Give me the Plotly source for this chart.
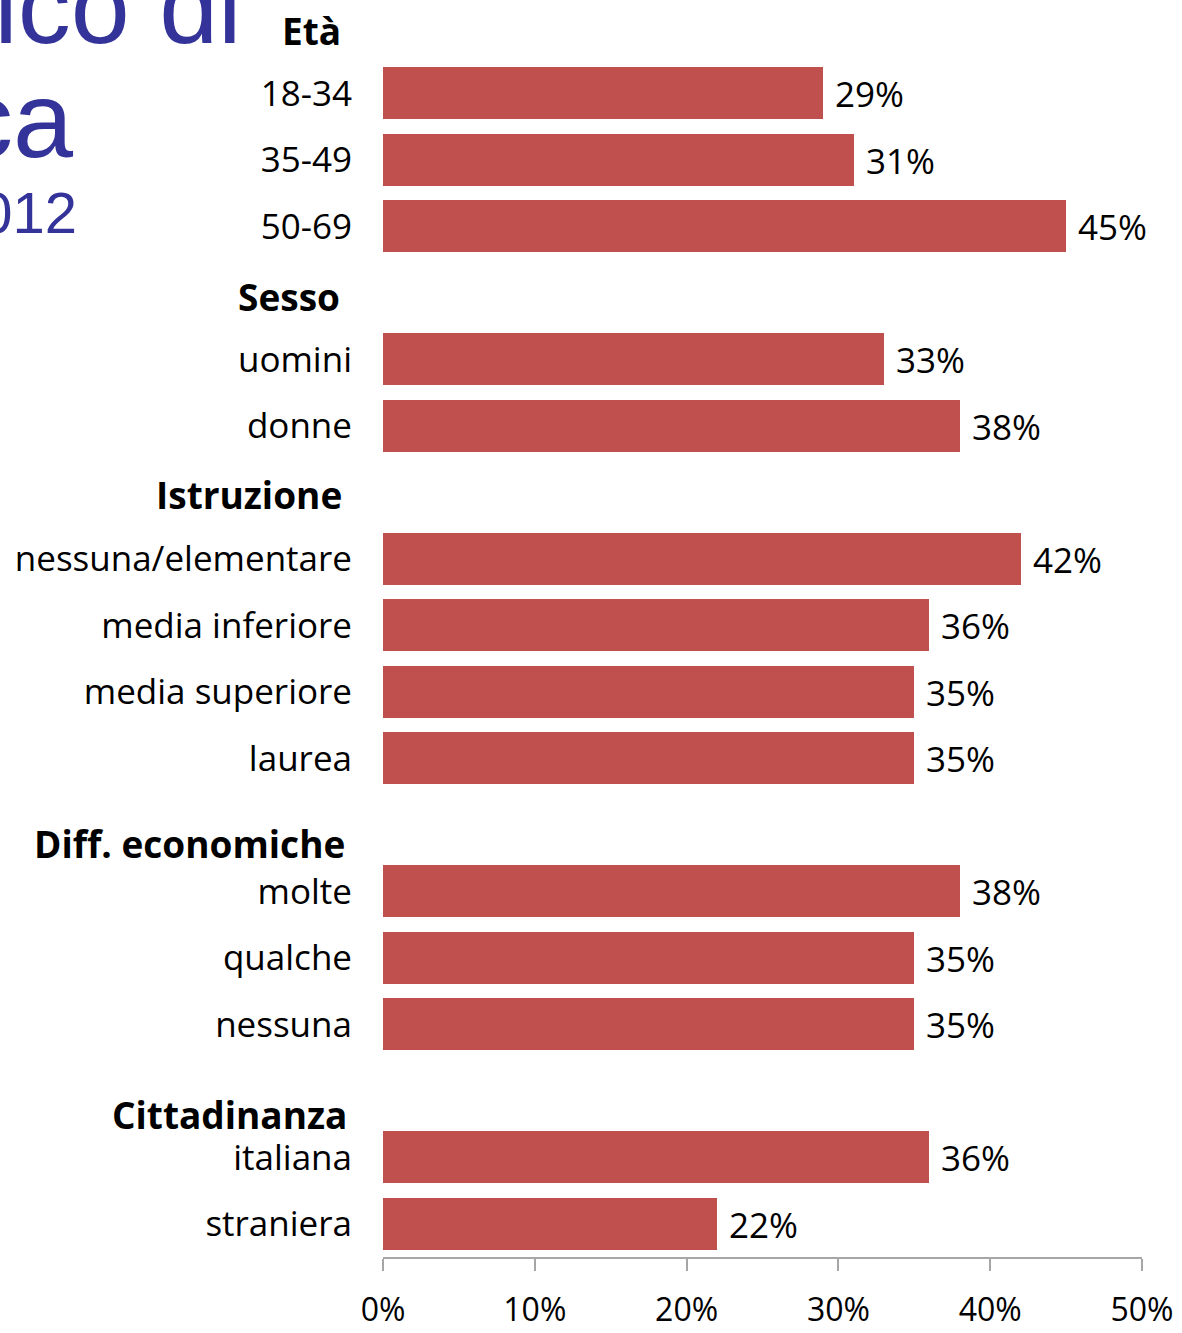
import plotly.graph_objects as go

# --- data -------------------------------------------------------------
group_names = ["Età", "Sesso", "Istruzione", "Diff. economiche", "Cittadinanza"]

eta_labels = ["18-34", "35-49", "50-69"]
eta_values = [29, 31, 45]

sesso_labels = ["uomini", "donne"]
sesso_values = [33, 38]

istruzione_labels = ["nessuna/elementare", "media inferiore", "media superiore", "laurea"]
istruzione_values = [42, 36, 35, 35]

economiche_labels = ["molte", "qualche", "nessuna"]
economiche_values = [38, 35, 35]

cittadinanza_labels = ["italiana", "straniera"]
cittadinanza_values = [36, 22]

x_tick_values = [0, 10, 20, 30, 40, 50]
x_tick_labels = ["0%", "10%", "20%", "30%", "40%", "50%"]

title_lines = ["Medico di", "fisica", "2012"]

# --- layout constants -------------------------------------------------
W, H = 1182, 1333
PLOT_L, PLOT_R = 383, 1142
PLOT_B = 1257
ROW_PX = 66.5
BAR_COLOR = "#C0504D"
FONT = "Open Sans"
TITLE_FONT = "Liberation Sans, Arial"
TITLE_COLOR = "#333399"
# vertical nudge (in rows) of each group heading below its own row
header_shift = [0.06, 0.06, 0.04, 0.28, 0.36]
# horizontal gap (px) between each heading's right edge and the plot area
header_gap = [40, 41, 39, 36, 34]

groups = [
    (eta_labels, eta_values),
    (sesso_labels, sesso_values),
    (istruzione_labels, istruzione_values),
    (economiche_labels, economiche_values),
    (cittadinanza_labels, cittadinanza_values),
]

# each group takes one row for its heading, then one row per category
rows, labels, values, header_rows = [], [], [], []
r = 0
for labs, vals in groups:
    header_rows.append(r)
    r += 1
    for lab, val in zip(labs, vals):
        rows.append(r)
        labels.append(lab)
        values.append(val)
        r += 1
last_row = r - 1
top_row = last_row + 0.5 - PLOT_B / ROW_PX  # row index at the top of the page

fig = go.Figure()
fig.add_trace(go.Bar(
    y=rows, x=values, orientation="h",
    width=0.78,
    marker=dict(color=BAR_COLOR, line=dict(width=0)),
    texttemplate=" %{x}%", textposition="outside",
    textfont=dict(family=FONT, size=35, color="black"),
    cliponaxis=False,
))

annotations = []
for name, hr, shift, gap in zip(group_names, header_rows, header_shift, header_gap):
    annotations.append(dict(
        text=f"<b>{name}</b>", x=-gap / (PLOT_R - PLOT_L), xref="paper",
        y=hr + shift, yref="y", xanchor="right", yanchor="middle",
        showarrow=False, font=dict(family=FONT, size=37, color="black"),
    ))

# slide title fragments in the upper-left corner
title_specs = [
    (title_lines[0], 244, 6, 106),
    (title_lines[1], 76, 120, 108),
    (title_lines[2], 79, 213, 58),
]
for txt, xr, yc, size in title_specs:
    annotations.append(dict(
        text=txt, x=(xr - PLOT_L) / (PLOT_R - PLOT_L), xref="paper",
        y=1 - yc / PLOT_B, yref="paper", xanchor="right", yanchor="middle",
        showarrow=False, font=dict(family=TITLE_FONT, size=size, color=TITLE_COLOR),
    ))

fig.update_layout(
    width=W, height=H,
    margin=dict(l=PLOT_L, r=W - PLOT_R, t=0, b=H - PLOT_B, pad=0),
    paper_bgcolor="white", plot_bgcolor="white",
    showlegend=False,
    bargap=0,
    annotations=annotations,
    xaxis=dict(
        range=[0, 50], tickvals=x_tick_values, ticktext=x_tick_labels,
        showgrid=False, zeroline=False,
        showline=True, linecolor="#A6A6A6", linewidth=1.5,
        ticks="outside", ticklen=12, tickwidth=1.5, tickcolor="#A6A6A6",
        tickfont=dict(family=FONT, size=32, color="black"),
        ticklabelstandoff=12, automargin=False,
    ),
    yaxis=dict(
        range=[last_row + 0.5, top_row], tickvals=rows, ticktext=labels,
        showgrid=False, zeroline=False, showline=False, ticks="",
        tickfont=dict(family=FONT, size=35, color="black"),
        ticklabelstandoff=30, automargin=False,
    ),
)

fig.write_html("out.html")
